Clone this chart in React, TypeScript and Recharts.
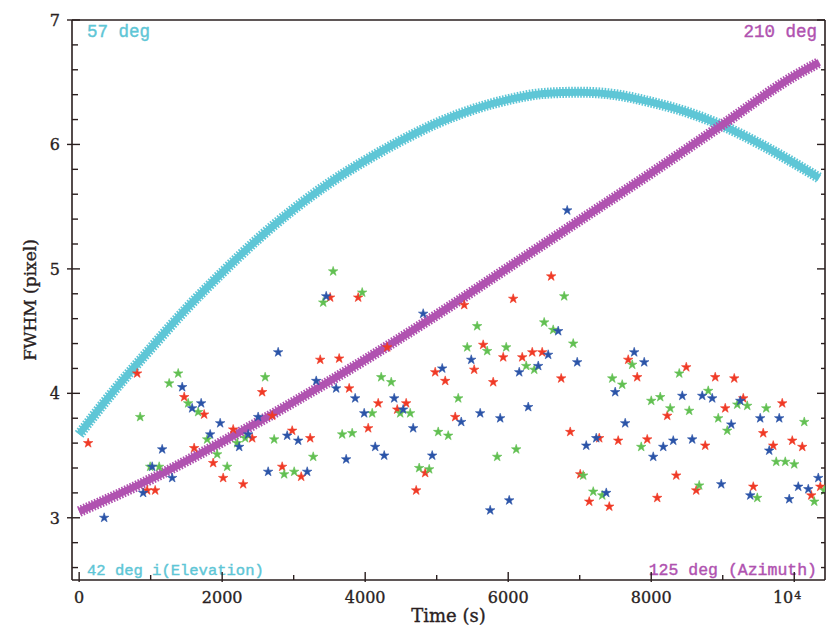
import React from 'react';
import { ComposedChart, Scatter, Line, XAxis, YAxis, ZAxis, ReferenceArea, Label } from 'recharts';

// ---------- axes ----------
const X_DOMAIN: [number, number] = [-100, 10430];
const Y_DOMAIN: [number, number] = [2.5, 7];
const X_TICKS = [0, 1000, 2000, 3000, 4000, 5000, 6000, 7000, 8000, 9000, 10000];
const X_MAJOR_TICKS = [0, 2000, 4000, 6000, 8000, 10000];
const Y_TICKS = [2.6, 2.8, 3, 3.2, 3.4, 3.6, 3.8, 4, 4.2, 4.4, 4.6, 4.8, 5, 5.2, 5.4, 5.6, 5.8, 6, 6.2, 6.4, 6.6, 6.8, 7];
const Y_MAJOR_TICKS = [3, 4, 5, 6, 7];
const X_TITLE = 'Time (s)';
const Y_TITLE = 'FWHM (pixel)';
const LABEL_TOP_LEFT = '57 deg';
const LABEL_TOP_RIGHT = '210 deg';
const LABEL_BOTTOM_LEFT = '42 deg i(Elevation)';
const LABEL_BOTTOM_RIGHT = '125 deg (Azimuth)';

// ---------- model curves ----------
const elevTimes = [0, 500, 1000, 1500, 2000, 2500, 3000, 3500, 4000, 4500, 5000, 5500, 6000, 6500, 7000, 7500, 8000, 8500, 9000, 9500, 10000, 10350];
const elevFwhm = [3.67, 4.03, 4.36, 4.68, 4.97, 5.24, 5.48, 5.69, 5.87, 6.03, 6.17, 6.28, 6.36, 6.41, 6.42, 6.4, 6.34, 6.26, 6.15, 6.01, 5.85, 5.73];
const aziTimes = [0, 1000, 2000, 3000, 4000, 5000, 6000, 7000, 8000, 9000, 10000, 10350];
const aziFwhm = [3.05, 3.31, 3.61, 3.93, 4.27, 4.63, 5.01, 5.39, 5.77, 6.16, 6.55, 6.66];

// ---------- measurements ----------
const redTimes = [126, 811, 951, 1063, 1469, 1608, 1748, 1874, 2014, 2154, 2294, 2420, 2559, 2700, 2839, 2979, 3105, 3231, 3371, 3510, 3636, 3776, 3902, 4042, 4182, 4308, 4448, 4573, 4713, 4839, 4979, 5119, 5259, 5385, 5524, 5650, 5790, 5930, 6070, 6196, 6336, 6475, 6601, 6741, 6867, 7007, 7133, 7273, 7413, 7538, 7678, 7804, 7944, 8084, 8224, 8350, 8490, 8629, 8755, 8895, 9035, 9161, 9287, 9427, 9566, 9706, 9832, 9972, 10112, 10238, 10364];
const redFwhm = [3.6, 4.16, 3.22, 3.22, 3.97, 3.56, 3.83, 3.44, 3.32, 3.71, 3.27, 3.64, 4.01, 3.82, 3.41, 3.7, 3.33, 3.64, 4.27, 4.77, 4.28, 4.04, 4.77, 3.72, 3.92, 4.37, 3.87, 3.92, 3.22, 3.36, 4.17, 4.1, 3.81, 4.71, 4.19, 4.39, 4.09, 4.29, 4.76, 4.29, 4.33, 4.33, 4.94, 4.12, 3.69, 3.35, 3.13, 3.64, 3.09, 3.62, 4.27, 4.13, 3.63, 3.16, 3.82, 3.34, 4.21, 3.22, 3.58, 4.13, 3.88, 4.12, 3.96, 3.25, 3.68, 3.58, 3.92, 3.62, 3.57, 3.18, 3.25];

const greenTimes = [853, 993, 1119, 1259, 1385, 1524, 1664, 1790, 1930, 2070, 2210, 2322, 2601, 2727, 2867, 3007, 3273, 3413, 3552, 3678, 3818, 3958, 4098, 4224, 4364, 4490, 4629, 4755, 4895, 5021, 5161, 5301, 5427, 5566, 5706, 5846, 5972, 6112, 6252, 6364, 6503, 6629, 6783, 6909, 7049, 7189, 7315, 7455, 7594, 7734, 7860, 8000, 8126, 8266, 8392, 8531, 8671, 8797, 8937, 9063, 9203, 9343, 9483, 9608, 9748, 9874, 10000, 10140, 10280, 10420];
const greenFwhm = [3.81, 3.41, 3.41, 4.08, 4.16, 3.92, 3.85, 3.63, 3.51, 3.41, 3.6, 3.64, 4.13, 3.63, 3.35, 3.37, 3.49, 4.73, 4.98, 3.67, 3.68, 4.81, 3.84, 4.13, 4.09, 3.84, 3.84, 3.4, 3.39, 3.69, 3.66, 3.96, 4.37, 4.54, 4.34, 3.49, 4.37, 3.55, 4.22, 4.19, 4.57, 4.51, 4.78, 4.4, 3.34, 3.21, 3.18, 4.12, 4.07, 4.23, 3.57, 3.94, 3.97, 3.88, 4.16, 3.86, 3.26, 4.02, 3.8, 3.7, 3.91, 3.9, 3.16, 3.88, 3.45, 3.45, 3.43, 3.77, 3.13, 3.22];

const blueTimes = [350, 895, 1021, 1161, 1301, 1441, 1580, 1706, 1832, 1972, 2238, 2364, 2503, 2643, 2783, 2909, 3063, 3189, 3315, 3455, 3594, 3734, 3860, 3986, 4140, 4266, 4406, 4531, 4671, 4811, 4937, 5077, 5343, 5483, 5608, 5748, 5888, 6014, 6154, 6280, 6420, 6559, 6699, 6825, 6965, 7091, 7231, 7371, 7496, 7636, 7762, 7902, 8028, 8168, 8308, 8434, 8573, 8713, 8853, 8979, 9119, 9245, 9385, 9524, 9650, 9790, 9930, 10056, 10196, 10336];
const blueFwhm = [3.0, 3.2, 3.41, 3.55, 3.32, 4.05, 3.88, 3.92, 3.67, 3.76, 3.57, 3.67, 3.81, 3.37, 4.33, 3.66, 3.62, 3.37, 4.1, 4.78, 4.04, 3.47, 3.96, 3.84, 3.57, 3.5, 3.96, 3.87, 3.72, 4.64, 3.5, 4.2, 3.77, 4.27, 3.84, 3.06, 3.8, 3.14, 4.17, 3.89, 4.22, 4.31, 4.5, 5.47, 4.25, 3.58, 3.64, 3.2, 4.01, 3.76, 4.33, 4.25, 3.49, 3.57, 3.62, 3.98, 3.63, 3.98, 3.96, 3.27, 3.75, 3.94, 3.18, 3.8, 3.54, 3.8, 3.15, 3.25, 3.23, 3.32];

// ---------- styles ----------
const INK = '#2a1f1f';
const CYAN = '#5ec6d6';
const MAGENTA = '#b052b0';
const RED = '#f03a26';
const GREEN = '#62c052';
const BLUE = '#2b54a8';
const SERIF = "'DejaVu Serif', serif";
const MONO = "'Liberation Mono', monospace";

const toPoints = (xs: number[], ys: number[]) => xs.map((x, i) => ({ x, y: ys[i] }));

const elevPoints = toPoints(elevTimes, elevFwhm);
const aziPoints = toPoints(aziTimes, aziFwhm);
const redPoints = toPoints(redTimes, redFwhm);
const greenPoints = toPoints(greenTimes, greenFwhm);
const bluePoints = toPoints(blueTimes, blueFwhm);

const textInk = { fontFamily: SERIF, fontSize: 16, fill: INK, stroke: INK, strokeWidth: 0.35 };

const BottomTick = (props: any) => {
  const { x, y, payload } = props;
  const v = payload.value;
  const major = X_MAJOR_TICKS.includes(v);
  let label: React.ReactNode = null;
  if (major) {
    if (v === 10000) {
      label = (
        <g>
          <text x={x - 1} y={y + 23} textAnchor="end" {...textInk}>10</text>
          <text x={x} y={y + 19} textAnchor="start" {...textInk} fontSize={11}>4</text>
        </g>
      );
    } else {
      label = (
        <text x={x} y={y + 23} textAnchor="middle" {...textInk}>{v}</text>
      );
    }
  }
  return (
    <g>
      <line x1={x} x2={x} y1={y + (major ? 2 : 0)} y2={y - (major ? 8 : 5)} stroke={INK} strokeWidth={1.4} />
      {label}
    </g>
  );
};

const TopTick = (props: any) => {
  const { x, y } = props;
  return <line x1={x} x2={x} y1={y} y2={y + 5} stroke={INK} strokeWidth={1.4} />;
};

const LeftTick = (props: any) => {
  const { x, y, payload } = props;
  const v = payload.value;
  const major = Y_MAJOR_TICKS.includes(v);
  return (
    <g>
      <line x1={x - (major ? 5 : 0)} x2={x + (major ? 8 : 6)} y1={y} y2={y} stroke={INK} strokeWidth={1.4} />
      {major && (
        <text x={x - 12} y={y} dy="0.36em" textAnchor="end" {...textInk}>
          {v}
        </text>
      )}
    </g>
  );
};

const RightTick = (props: any) => {
  const { x, y, payload } = props;
  const major = Y_MAJOR_TICKS.includes(payload.value);
  return <line x1={x} x2={x - (major ? 8 : 4)} y1={y} y2={y} stroke={INK} strokeWidth={1.4} />;
};

const CornerLabels = (props: any) => {
  const vb = props.viewBox || {};
  const { x = 0, y = 0, width = 0, height = 0 } = vb;
  return (
    <g fontFamily={MONO} strokeWidth={0.4}>
      <text x={x + 15} y={y + 17} fill={CYAN} stroke={CYAN} fontSize={17.5}>{LABEL_TOP_LEFT}</text>
      <text x={x + width - 8} y={y + 17} fill={MAGENTA} stroke={MAGENTA} fontSize={17.5} textAnchor="end">{LABEL_TOP_RIGHT}</text>
      <text x={x + 15} y={y + height - 5} fill={CYAN} stroke={CYAN} fontSize={15.5}>{LABEL_BOTTOM_LEFT}</text>
      <text x={x + width - 8} y={y + height - 5} fill={MAGENTA} stroke={MAGENTA} fontSize={16.5} textAnchor="end">{LABEL_BOTTOM_RIGHT}</text>
    </g>
  );
};

const curveProps = {
  xAxisId: 'x',
  yAxisId: 'y',
  dataKey: 'y',
  type: 'monotone' as const,
  dot: false,
  activeDot: false,
  isAnimationActive: false,
};

export default function App() {
  return (
    <div style={{ position: 'absolute', left: 0, top: 0, width: 839, height: 630, background: '#fff' }}>
      <ComposedChart width={839} height={630} margin={{ top: 20, right: 14, bottom: 8, left: 0 }}>
        <XAxis
          xAxisId="x"
          dataKey="x"
          type="number"
          orientation="bottom"
          domain={X_DOMAIN}
          allowDataOverflow
          ticks={X_TICKS}
          interval={0}
          height={42}
          tickSize={0}
          tickMargin={0}
          tickLine={false}
          tick={<BottomTick />}
          axisLine={{ stroke: INK, strokeWidth: 1.6 }}
          label={{ value: X_TITLE, position: 'insideBottom', offset: 0, fontFamily: SERIF, fontSize: 18, fill: INK, style: { fontFamily: SERIF, fontSize: 18, fill: INK, stroke: INK, strokeWidth: 0.35 } }}
        />
        <XAxis
          xAxisId="top"
          type="number"
          orientation="top"
          mirror
          domain={X_DOMAIN}
          allowDataOverflow
          ticks={X_TICKS}
          interval={0}
          height={1}
          tickSize={0}
          tickMargin={0}
          tickLine={false}
          tick={<TopTick />}
          axisLine={{ stroke: INK, strokeWidth: 1.6 }}
        />
        <YAxis
          yAxisId="y"
          dataKey="y"
          type="number"
          orientation="left"
          domain={Y_DOMAIN}
          allowDataOverflow
          ticks={Y_TICKS}
          interval={0}
          width={72}
          tickSize={0}
          tickMargin={0}
          tickLine={false}
          tick={<LeftTick />}
          axisLine={{ stroke: INK, strokeWidth: 1.6 }}
          label={{ value: Y_TITLE, angle: -90, position: 'insideLeft', offset: 30, fontFamily: SERIF, fontSize: 17, fill: INK, style: { textAnchor: 'middle', fontFamily: SERIF, fontSize: 17, fill: INK, stroke: INK, strokeWidth: 0.35 } }}
        />
        <YAxis
          yAxisId="right"
          type="number"
          orientation="right"
          mirror
          domain={Y_DOMAIN}
          allowDataOverflow
          ticks={Y_TICKS}
          interval={0}
          width={1}
          tickSize={0}
          tickMargin={0}
          tickLine={false}
          tick={<RightTick />}
          axisLine={{ stroke: INK, strokeWidth: 1.6 }}
        />
        <ZAxis range={[28, 28]} />
        <Line data={elevPoints} {...curveProps} stroke={CYAN} strokeWidth={11} strokeDasharray="1.6 1.4" />
        <Line data={elevPoints} {...curveProps} stroke={CYAN} strokeWidth={7} />
        <Line data={aziPoints} {...curveProps} stroke={MAGENTA} strokeWidth={11} strokeDasharray="1.6 1.4" />
        <Line data={aziPoints} {...curveProps} stroke={MAGENTA} strokeWidth={7} />
        <Scatter data={redPoints} xAxisId="x" yAxisId="y" dataKey="y" shape="star" fill={RED} stroke={RED} strokeWidth={0.6} isAnimationActive={false} />
        <Scatter data={greenPoints} xAxisId="x" yAxisId="y" dataKey="y" shape="star" fill={GREEN} stroke={GREEN} strokeWidth={0.6} isAnimationActive={false} />
        <Scatter data={bluePoints} xAxisId="x" yAxisId="y" dataKey="y" shape="star" fill={BLUE} stroke={BLUE} strokeWidth={0.6} isAnimationActive={false} />
        <ReferenceArea
          xAxisId="x"
          yAxisId="y"
          x1={X_DOMAIN[0]}
          x2={X_DOMAIN[1]}
          y1={Y_DOMAIN[0]}
          y2={Y_DOMAIN[1]}
          fill="none"
          fillOpacity={0}
          stroke="none"
        >
          <Label content={<CornerLabels />} />
        </ReferenceArea>
      </ComposedChart>
    </div>
  );
}
